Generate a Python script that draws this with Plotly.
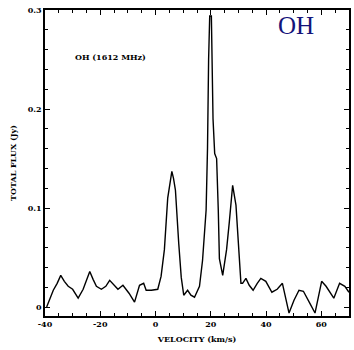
import plotly.graph_objects as go

velocity = [-39.4, -38.2, -37.0, -35.6, -34.3, -33.0, -31.6, -30.0, -28.0, -26.2,
            -25.0, -23.8, -22.6, -21.4, -19.6, -18.0, -16.6, -15.0, -13.6, -11.8,
            -9.6, -7.6, -5.8, -4.3, -3.4, -1.5, 0.8, 2.0, 3.2, 4.4,
            5.2, 5.9, 6.5, 7.2, 8.4, 9.3, 10.2, 11.6, 12.8, 14.1,
            15.9, 17.0, 18.3, 18.8, 19.2, 19.6, 20.2, 20.5, 20.8, 21.4,
            22.1, 22.7, 23.1, 24.3, 25.7, 26.7, 27.9, 29.1, 30.0, 30.9,
            31.5, 32.7, 33.9, 35.3, 36.8, 38.1, 39.9, 42.1, 44.0, 45.9,
            48.3, 50.1, 51.9, 53.5, 55.8, 57.7, 60.1, 61.7, 64.5, 66.6,
            68.5, 70.0]
flux = [0.000, 0.008, 0.017, 0.024, 0.032, 0.026, 0.021, 0.018, 0.009, 0.018,
        0.027, 0.036, 0.028, 0.021, 0.018, 0.021, 0.027, 0.022, 0.018, 0.022,
        0.014, 0.005, 0.022, 0.024, 0.017, 0.017, 0.018, 0.031, 0.058, 0.110,
        0.125, 0.137, 0.130, 0.118, 0.064, 0.030, 0.012, 0.017, 0.012, 0.010,
        0.021, 0.047, 0.098, 0.160, 0.250, 0.294, 0.294, 0.250, 0.190, 0.155,
        0.150, 0.098, 0.049, 0.032, 0.058, 0.086, 0.123, 0.103, 0.058, 0.024,
        0.024, 0.029, 0.022, 0.017, 0.024, 0.029, 0.026, 0.015, 0.018, 0.024,
        -0.006, 0.007, 0.017, 0.016, 0.004, -0.006, 0.026, 0.021, 0.009, 0.024,
        0.021, 0.015]

x_ticks = [-40, -20, 0, 20, 40, 60]
x_tick_labels = ["-40", "-20", "0", "20", "40", "60"]
y_ticks = [0, 0.1, 0.2, 0.3]
y_tick_labels = ["0", "0.1", "0.2", "0.3"]

font_fam = "DejaVu Serif"
tick_font = dict(family=font_fam, size=8, color="black", weight="bold")

fig = go.Figure()
fig.add_trace(go.Scatter(x=velocity, y=flux, mode="lines",
                         line=dict(color="black", width=1.4), showlegend=False))

axis_common = dict(showline=True, linecolor="black", linewidth=1.5, mirror="allticks",
                   ticks="inside", ticklen=5, tickwidth=1.2, tickcolor="black",
                   showgrid=False, zeroline=False, tickfont=tick_font)

fig.update_xaxes(range=[-40, 70], tickvals=x_ticks, ticktext=x_tick_labels,
                 minor=dict(dtick=5, tick0=0, ticks="inside", ticklen=3, tickcolor="black"),
                 title=dict(text="VELOCITY (km/s)", font=tick_font, standoff=8),
                 **axis_common)
fig.update_yaxes(range=[-0.009, 0.3], tickvals=y_ticks, ticktext=y_tick_labels,
                 minor=dict(dtick=0.02, tick0=0, ticks="inside", ticklen=3, tickcolor="black"),
                 title=dict(text="TOTAL FLUX (Jy)", font=tick_font, standoff=10),
                 **axis_common)

fig.add_annotation(x=0.092, y=0.846, xref="paper", yref="paper", xanchor="left", yanchor="middle",
                   text="OH (1612 MHz)", showarrow=False, font=tick_font)
fig.add_annotation(x=0.825, y=0.95, xref="paper", yref="paper", xanchor="center", yanchor="middle",
                   text="OH", showarrow=False,
                   font=dict(family="Liberation Serif", size=25, color="#14147a"))

fig.update_layout(width=354, height=350, margin=dict(l=45, r=3, t=10, b=34),
                  paper_bgcolor="white", plot_bgcolor="white")

fig.write_html("out.html")
